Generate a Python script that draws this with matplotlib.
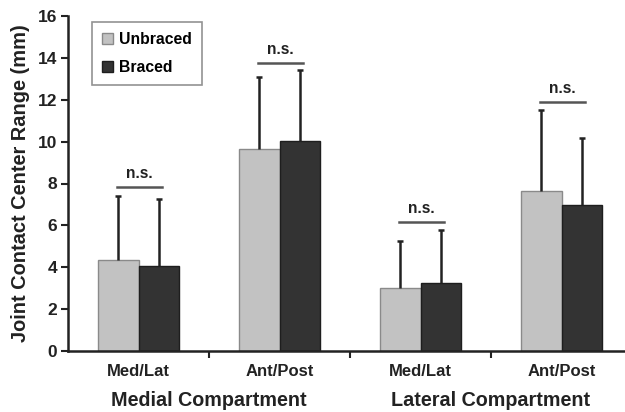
import matplotlib
matplotlib.use("Agg")
import matplotlib.pyplot as plt
import numpy as np
from matplotlib.patches import Patch

plt.rcParams['font.family'] = ['Liberation Sans', 'DejaVu Sans']
plt.rcParams['font.weight'] = 'bold'

categories = ["Med/Lat", "Ant/Post", "Med/Lat", "Ant/Post"]
groups = ["Medial Compartment", "Lateral Compartment"]
unbraced = [4.35, 9.63, 2.99, 7.66]
unbraced_sd = [3.05, 3.46, 2.28, 3.85]
braced = [4.06, 10.01, 3.24, 6.98]
braced_sd = [3.19, 3.39, 2.52, 3.19]
ns_level = [7.82, 13.75, 6.16, 11.91]
yticks = [0, 2, 4, 6, 8, 10, 12, 14, 16]

fig = plt.figure(figsize=(6.25, 4.12), dpi=100)
ax = fig.add_axes([68/625, 1-351/412, 557/625, (351-16)/412])

x = np.arange(len(categories))
w = 0.284
c_un, c_br = '#c2c2c2', '#333333'
ax.bar(x - w/2, unbraced, w, color=c_un, edgecolor='#8a8a8a', linewidth=1, zorder=2)
ax.bar(x + w/2, braced, w, color=c_br, edgecolor='#1e1e1e', linewidth=1, zorder=2)
zeros = np.zeros(len(x))
for xs, ys, es in [(x - w/2, unbraced, unbraced_sd), (x + w/2, braced, braced_sd)]:
    eb = ax.errorbar(xs, ys, yerr=[zeros, es], fmt='none', ecolor='#222222',
                     elinewidth=1.8, capsize=2.5, capthick=1.8, zorder=3)
    eb[1][0].set_visible(False)

for xi, lv in zip(x, ns_level):
    ax.plot([xi - 0.155, xi + 0.17], [lv, lv], color='#555555', lw=1.8, zorder=3)
    ax.text(xi + 0.005, lv + 0.28, "n.s.", ha='center', va='bottom', fontsize=11.2,
            fontweight='bold', color='#222222')

ax.set_xlim(-0.5, -0.5 + 557/141)
ax.set_ylim(0, 16)
ax.set_yticks(yticks)
ax.set_yticklabels([str(t) for t in yticks], fontsize=12.5, fontweight='bold', color='#222222')
ax.set_xticks(x)
ax.set_xticklabels(categories, fontsize=12, fontweight='bold', color='#222222')
ax.tick_params(axis='x', which='major', length=0, pad=9)
ax.set_xticks([0.5, 1.5, 2.5], minor=True)
ax.tick_params(axis='x', which='minor', length=5, width=1.5, direction='out', color='#222222')
ax.tick_params(axis='y', length=5, width=1.5, direction='out', color='#222222', pad=3)
for s in ['top', 'right']:
    ax.spines[s].set_visible(False)
for s in ['left', 'bottom']:
    ax.spines[s].set_linewidth(1.8)
    ax.spines[s].set_color('#222222')

ax.set_ylabel("Joint Contact Center Range (mm)", fontsize=14.4, fontweight='bold', color='#222222', labelpad=5)

for gi, g in enumerate(groups):
    gx = 0.5 + 2 * gi
    ax.text(gx, -0.12, g, transform=ax.get_xaxis_transform(), ha='center', va='top',
            fontsize=14.2, fontweight='bold', color='#222222')

handles = [Patch(facecolor=c_un, edgecolor='#8a8a8a', label='Unbraced'),
           Patch(facecolor=c_br, edgecolor='#1e1e1e', label='Braced')]
leg = ax.legend(handles=handles, loc='upper left', bbox_to_anchor=(24/557, 1.0 - 6/335),
                prop={'weight': 'bold', 'size': 11.3}, frameon=True, fancybox=False,
                edgecolor='#777777', handlelength=0.7, handleheight=0.7, handletextpad=0.35,
                labelspacing=0.8, borderpad=0.65, borderaxespad=0)
leg.get_frame().set_linewidth(1.2)

fig.savefig("out.png", dpi=100)
